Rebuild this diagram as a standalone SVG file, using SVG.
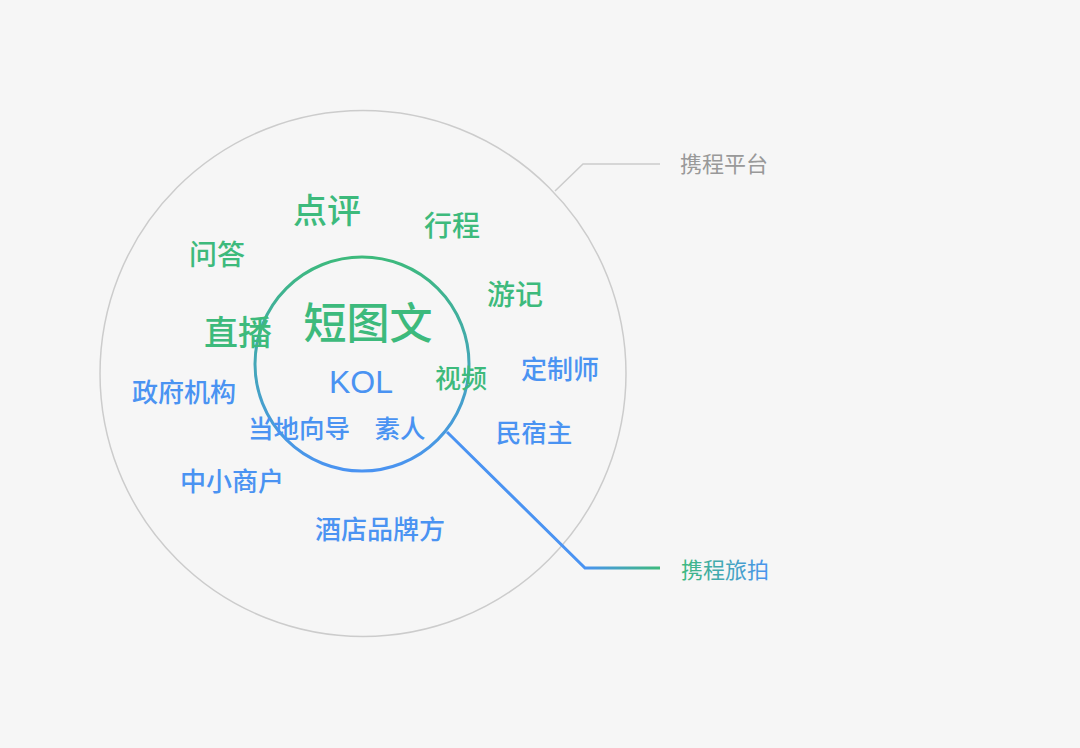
<svg xmlns="http://www.w3.org/2000/svg" width="1080" height="748" viewBox="0 0 1080 748">
<defs>
<linearGradient id="gc" x1="0" y1="0" x2="0" y2="1"><stop offset="0" stop-color="#3dba7c"/><stop offset="1" stop-color="#4a93f2"/></linearGradient>
<linearGradient id="gl" gradientUnits="userSpaceOnUse" x1="585" y1="0" x2="660" y2="0"><stop offset="0" stop-color="#4a93f2"/><stop offset="1" stop-color="#3dba7c"/></linearGradient>
<linearGradient id="gt" gradientUnits="userSpaceOnUse" x1="680" y1="0" x2="770" y2="0"><stop offset="0" stop-color="#3dba7c"/><stop offset="1" stop-color="#4a93f2"/></linearGradient>
<style>
text{font-family:"Noto Sans CJK SC","Liberation Sans",sans-serif;font-weight:500;text-anchor:middle;dominant-baseline:central}
.g{fill:#3dba7c}.b{fill:#4a93f2}
.lbl{font-weight:400;font-size:22px}
.kol{font-family:"Liberation Sans",sans-serif;font-weight:400}
</style>
</defs>
<rect width="1080" height="748" fill="#f6f6f6"/>
<g id="platform"><circle cx="363" cy="373.5" r="263" fill="none" stroke="#cccccc" stroke-width="1.5"/></g>
<g id="lvpai"><circle cx="362" cy="364" r="107" fill="none" stroke="url(#gc)" stroke-width="3"/></g>
<g id="connectors">
<polyline points="555,191 583,164 660,164" fill="none" stroke="#cccccc" stroke-width="1.5"/>
<polyline points="447,432 585,568 660,568" fill="none" stroke="url(#gl)" stroke-width="3"/>
</g>
<g id="label-platform"><text class="lbl" x="724" y="162" fill="#999999">携程平台</text></g>
<g id="label-lvpai"><text class="lbl" x="725" y="568" fill="url(#gt)">携程旅拍</text></g>
<g id="dianping"><text class="g" x="327" y="208" font-size="34">点评</text></g>
<g id="xingcheng"><text class="g" x="452" y="224" font-size="28">行程</text></g>
<g id="wenda"><text class="g" x="217" y="253" font-size="28">问答</text></g>
<g id="youji"><text class="g" x="515" y="293" font-size="28">游记</text></g>
<g id="zhibo"><text class="g" x="238" y="330" font-size="34">直播</text></g>
<g id="duantuwen"><text class="g" x="368" y="320" font-size="43">短图文</text></g>
<g id="kol"><text class="b kol" x="361" y="382" font-size="32">KOL</text></g>
<g id="shipin"><text class="g" x="461" y="376" font-size="26">视频</text></g>
<g id="dingzhishi"><text class="b" x="560" y="367" font-size="26">定制师</text></g>
<g id="zhengfu"><text class="b" x="184" y="390" font-size="26">政府机构</text></g>
<g id="daoyou"><text class="b" x="299" y="426" font-size="25.5">当地向导</text></g>
<g id="suren"><text class="b" x="400" y="426" font-size="25.5">素人</text></g>
<g id="minsu"><text class="b" x="534" y="430" font-size="25.5">民宿主</text></g>
<g id="shanghu"><text class="b" x="232" y="479" font-size="26">中小商户</text></g>
<g id="jiudian"><text class="b" x="380" y="527" font-size="26">酒店品牌方</text></g>
</svg>
